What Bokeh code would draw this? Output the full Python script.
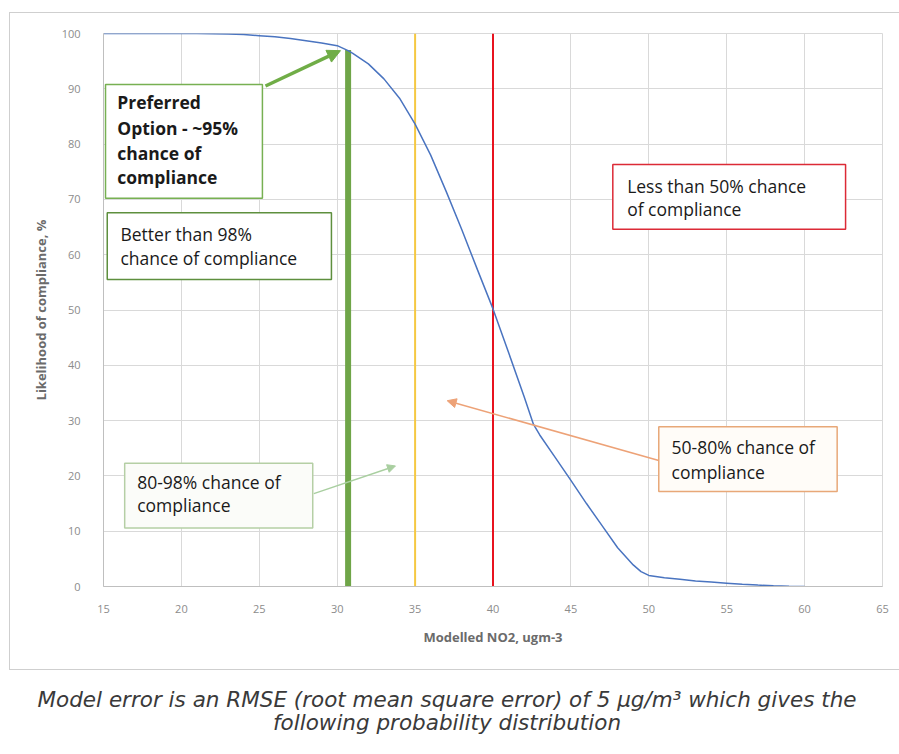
from bokeh.plotting import figure
from bokeh.layouts import column
from bokeh.models import Range1d, Label, BoxAnnotation, Arrow, NormalHead, FixedTicker
from bokeh.embed import file_html
from bokeh.resources import INLINE

# ---------------- data ----------------
no2 = [15, 16, 17, 18, 19, 20, 21, 22, 23, 24, 25, 26, 27, 28, 29, 30, 30.7, 31, 32, 33, 34, 35,
       36, 37, 38, 39, 40, 41, 42, 42.6, 43, 44, 45, 46, 47, 48, 49, 49.5, 50, 51, 52, 53, 54, 55,
       56, 57, 58, 59, 60]
likelihood = [100, 100, 100, 100, 100, 100, 99.98, 99.95, 99.9, 99.8, 99.6, 99.4, 99.1, 98.7, 98.3,
              97.8, 96.9, 96.4, 94.5, 91.8, 88.3, 83.6, 78.0, 71.4, 64.5, 57.3, 50.2, 42.3, 34.3,
              29.3, 27.4, 23.3, 19.2, 15.0, 11.0, 7.0, 3.9, 2.7, 2.0, 1.6, 1.3, 1.0, 0.8, 0.6,
              0.4, 0.25, 0.12, 0.05, 0.0]

marker_x = [30.7, 35, 40]
marker_top = [97, 100, 100]
marker_colors = ["#6fa548", "#f5c842", "#e8131f"]
marker_widths = [6, 2, 2]

x_ticks = [15, 20, 25, 30, 35, 40, 45, 50, 55, 60, 65]
y_ticks = [0, 10, 20, 30, 40, 50, 60, 70, 80, 90, 100]

x_label = "Modelled NO2, ugm-3"
y_label = "Likelihood of compliance, %"
caption = ["Model error is an RMSE (root mean square error) of 5 \u00b5g/m\u00b3 which gives the",
           "following probability distribution"]

# annotation boxes: (left, right, top, bottom, border colour, fill, lines, bold, text x, line ys)
boxes = [
    (15.13, 25.20, 90.8, 70.2, "#77b052", "#ffffff",
     ["Preferred", "Option - ~95%", "chance of", "compliance"], True, 15.88, [87.6, 83.0, 78.4, 74.0]),
    (15.24, 29.63, 67.6, 55.5, "#5e8f3e", "#ffffff",
     ["Better than 98%", "chance of compliance"], False, 16.09, [63.8, 59.4]),
    (16.36, 28.43, 22.3, 10.6, "#b5cfa5", "#fbfcf9",
     ["80-98% chance of", "compliance"], False, 17.16, [18.9, 14.7]),
    (50.64, 62.09, 28.9, 17.2, "#e8a878", "#fffcf8",
     ["50-80% chance of", "compliance"], False, 51.46, [25.2, 20.7]),
    (47.69, 62.63, 76.3, 64.6, "#dc2a36", "#ffffff",
     ["Less than 50% chance", "of compliance"], False, 48.61, [72.5, 68.2]),
]

arrows = [
    (25.40, 90.5, 30.21, 96.9, "#70ad47", 3.5, 13),
    (28.50, 16.8, 33.74, 21.8, "#a9cfa0", 1.5, 8),
    (50.64, 22.8, 37.06, 33.6, "#eda277", 1.5, 9),
]

FONT = "Open Sans"

# ---------------- chart ----------------
W, H = 889, 656
p = figure(width=W, height=H, x_range=Range1d(15, 65), y_range=Range1d(0, 100),
           output_backend="svg", toolbar_location=None,
           min_border_left=93, min_border_right=17, min_border_top=20, min_border_bottom=83,
           margin=(13, 0, 1, 10),
           styles={"outline": "1px solid #cfcfcf", "outline-offset": "0px"})
p.background_fill_color = "#ffffff"
p.border_fill_color = "#ffffff"
p.outline_line_color = "#d9d9d9"

p.xaxis.ticker = FixedTicker(ticks=x_ticks)
p.yaxis.ticker = FixedTicker(ticks=y_ticks)
p.xgrid.grid_line_color = "#d9d9d9"
p.ygrid.grid_line_color = "#d9d9d9"
for ax in (p.xaxis[0], p.yaxis[0]):
    ax.axis_line_color = "#bfbfbf"
    ax.major_tick_line_color = None
    ax.minor_tick_line_color = None
    ax.major_label_text_font = FONT
    ax.major_label_text_font_size = "11px"
    ax.major_label_text_color = "#8c8c8c"
    ax.axis_label_text_font = FONT
    ax.axis_label_text_font_size = "13px"
    ax.axis_label_text_font_style = "bold"
    ax.axis_label_text_color = "#6b6b6b"
p.xaxis.axis_label = x_label
p.yaxis.axis_label = y_label
p.xaxis.major_label_standoff = 12
p.xaxis.axis_label_standoff = 12
p.yaxis.major_label_standoff = 17
p.yaxis.axis_label_standoff = 9

# vertical threshold lines
p.segment(x0=marker_x, y0=[0, 0, 0], x1=marker_x, y1=marker_top,
          line_color=marker_colors, line_width=marker_widths)

# compliance curve
p.line(no2, likelihood, line_color="#4a74c0", line_width=1.5)

# annotation boxes and text
for (l, r, t, b, lc, fc, lines, bold, tx, tys) in boxes:
    p.add_layout(BoxAnnotation(left=l, right=r, top=t, bottom=b,
                               fill_color=fc, fill_alpha=1.0,
                               line_color=lc, line_width=1.5, line_alpha=1.0))
    for txt, ty in zip(lines, tys):
        p.add_layout(Label(x=tx, y=ty, text=txt, text_font=FONT,
                           text_font_size="17.5px", text_color="#1a1a1a",
                           text_font_style="bold" if bold else "normal",
                           text_align="left", text_baseline="middle"))

for (xs, ys, xe, ye, c, w, s) in arrows:
    p.add_layout(Arrow(x_start=xs, y_start=ys, x_end=xe, y_end=ye,
                       line_color=c, line_width=w,
                       end=NormalHead(size=s, fill_color=c, line_color=c)))

# ---------------- caption ----------------
CW, CH = 899, 78
cap = figure(width=CW, height=CH, x_range=Range1d(0, CW), y_range=Range1d(CH, 0),
             output_backend="svg", toolbar_location=None,
             x_axis_location=None, y_axis_location=None,
             min_border=0, min_border_left=0, min_border_right=0,
             min_border_top=0, min_border_bottom=0)
cap.grid.visible = False
cap.outline_line_color = None
cap.background_fill_color = "#ffffff"
cap.border_fill_color = "#ffffff"
for fig in (p, cap):
    try:
        fig.frame_align = False
    except Exception:
        pass
for i, line in enumerate(caption):
    cap.add_layout(Label(x=446.5, y=29 + i * 23, text=line,
                         text_font="DejaVu Sans", text_font_style="italic",
                         text_font_size="21.5px", text_color="#3a3a3a",
                         text_align="center", text_baseline="middle"))

layout = column(p, cap, spacing=0)
open("out.html", "w").write(file_html(layout, INLINE))
